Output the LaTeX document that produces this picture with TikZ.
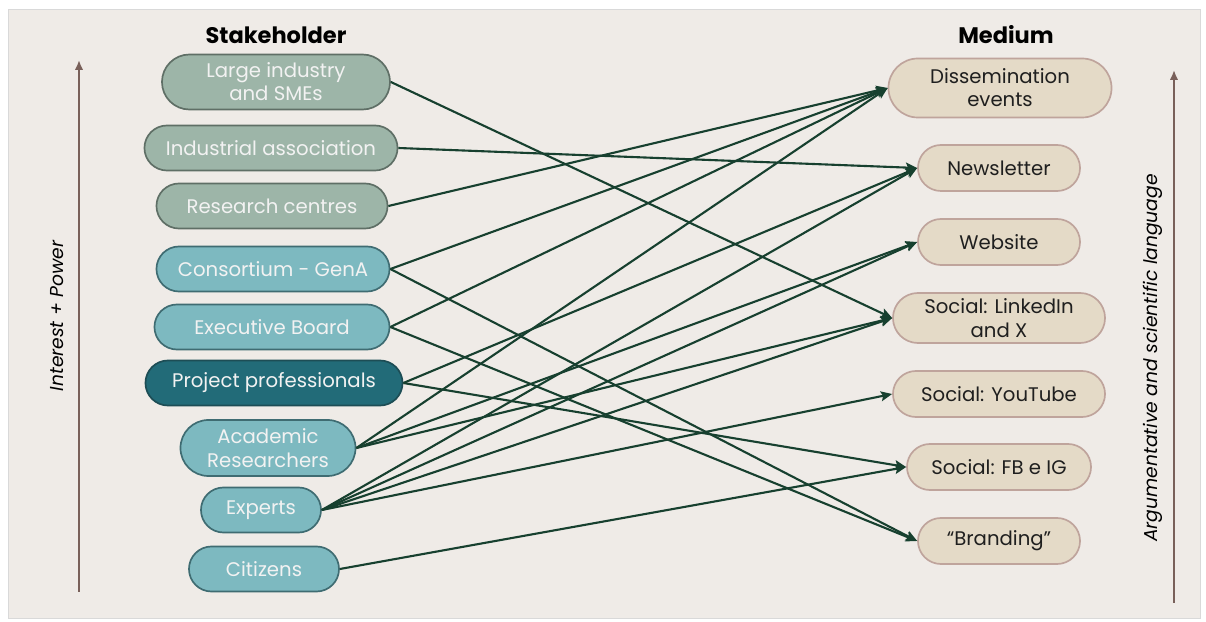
\documentclass[tikz,border=0pt]{standalone}
\usepackage{fontspec}
\setmainfont{Poppins}
\usepackage{xcolor}
\usetikzlibrary{arrows.meta,positioning,shapes.misc}

\definecolor{bgcol}{HTML}{EFEBE7}
\definecolor{sagefill}{HTML}{9DB5A8}
\definecolor{sageline}{HTML}{5F6F66}
\definecolor{cyanfill}{HTML}{7DB9C0}
\definecolor{cyanline}{HTML}{3F6C72}
\definecolor{deepfill}{HTML}{226B78}
\definecolor{deepline}{HTML}{1D4D55}
\definecolor{sandfill}{HTML}{E4DAC7}
\definecolor{sandline}{HTML}{BFA49C}
\definecolor{linkcol}{HTML}{17402F}
\definecolor{axiscol}{HTML}{79605A}

\tikzset{
  stake/.style={rounded rectangle,draw,line width=1.2pt,inner sep=0pt,align=center,
    text=white!95!black,font=\fontsize{14}{16.5}\selectfont,minimum height=1.125cm},
  medium/.style={rounded rectangle,draw=sandline,fill=sandfill,line width=1.2pt,inner sep=0pt,
    align=center,text=black!88,font=\fontsize{14}{16.5}\selectfont,minimum height=1.15cm},
  link/.style={draw=linkcol,line width=1.5pt,-{Stealth[length=8pt,width=7pt,inset=1.5pt]}},
  axis/.style={draw=axiscol,line width=1.6pt,-{Latex[length=7pt,width=6pt]}},
  head/.style={font=\fontsize{16}{18}\selectfont\bfseries},
  axislabel/.style={font=\fontsize{13.3}{15}\selectfont\itshape,rotate=90}
}

\begin{document}
\begin{tikzpicture}[x=0.025cm,y=-0.025cm]
  \useasboundingbox (0,0) rectangle (1206,622);
  \fill[white] (0,0) rectangle (1206,622);
  \filldraw[fill=bgcol,draw=black!15] (8,9) rectangle (1200,618);

  % stakeholders
  \node (lrg) [stake,fill=sagefill,draw=sageline,minimum width=5.7cm,minimum height=1.375cm] at (276,82) {Large industry\\and SMEs};
  \node (ind) [stake,fill=sagefill,draw=sageline,minimum width=6.325cm] at (271,148) {Industrial association};
  \node (res) [stake,fill=sagefill,draw=sageline,minimum width=5.775cm] at (272,206) {Research centres};
  \node (gen) [stake,fill=cyanfill,draw=cyanline,minimum width=5.825cm] at (273,269) {Consortium - GenA};
  \node (exe) [stake,fill=cyanfill,draw=cyanline,minimum width=5.875cm] at (272,327) {Executive Board};
  \node (pro) [stake,fill=deepfill,draw=deepline,minimum width=6.425cm] at (274,383) {Project professionals};
  \node (aca) [stake,fill=cyanfill,draw=cyanline,minimum width=4.375cm,minimum height=1.4cm] at (268,448) {Academic\\Researchers};
  \node (exp) [stake,fill=cyanfill,draw=cyanline,minimum width=3cm] at (261,510) {Experts};
  \node (cit) [stake,fill=cyanfill,draw=cyanline,minimum width=3.75cm] at (264,569) {Citizens};

  % media
  \node (dis) [medium,minimum width=5.575cm,minimum height=1.475cm] at (1000,88) {Dissemination\\events};
  \node (new) [medium,minimum width=4.05cm] at (999,168) {Newsletter};
  \node (web) [medium,minimum width=4.05cm] at (999,242) {Website};
  \node (lin) [medium,minimum width=5.3cm,minimum height=1.25cm] at (999,318) {Social: LinkedIn\\and X};
  \node (you) [medium,minimum width=5.3cm] at (999,394) {Social: YouTube};
  \node (fbi) [medium,minimum width=4.6cm] at (999,467) {Social: FB e IG};
  \node (bra) [medium,minimum width=4.05cm] at (999,541) {“Branding”};

  \node (sh) [head] at (276,35) {Stakeholder};
  \node (md) [head] at (1006,35) {Medium};

  % axes
  \coordinate (ipb) at (79,592); \coordinate (ipt) at (79,60);
  \coordinate (asb) at (1174,603); \coordinate (ast) at (1174,70);
  \draw[axis] (ipb) -- (ipt);
  \draw[axis] (asb) -- (ast);
  \node (ip) [axislabel] at (57,316) {Interest + Power};
  \node (as) [axislabel] at (1153,358) {Argumentative and scientific language};

  \draw[link] (lrg.east) -- (lin.west); \draw[link] (ind.east) -- (new.west); \draw[link] (res.east) -- (dis.west);
  \draw[link] (gen.east) -- (dis.west); \draw[link] (gen.east) -- (bra.west);
  \draw[link] (exe.east) -- (dis.west); \draw[link] (exe.east) -- (bra.west);
  \draw[link] (pro.east) -- (new.west); \draw[link] (pro.east) -- (fbi.west);
  \draw[link] (aca.east) -- (dis.west); \draw[link] (aca.east) -- (web.west); \draw[link] (aca.east) -- (lin.west);
  \draw[link] (exp.east) -- (new.west); \draw[link] (exp.east) -- (web.west);
  \draw[link] (exp.east) -- (lin.west); \draw[link] (exp.east) -- (you.west);
  \draw[link] (cit.east) -- (fbi.west);
\end{tikzpicture}
\end{document}
